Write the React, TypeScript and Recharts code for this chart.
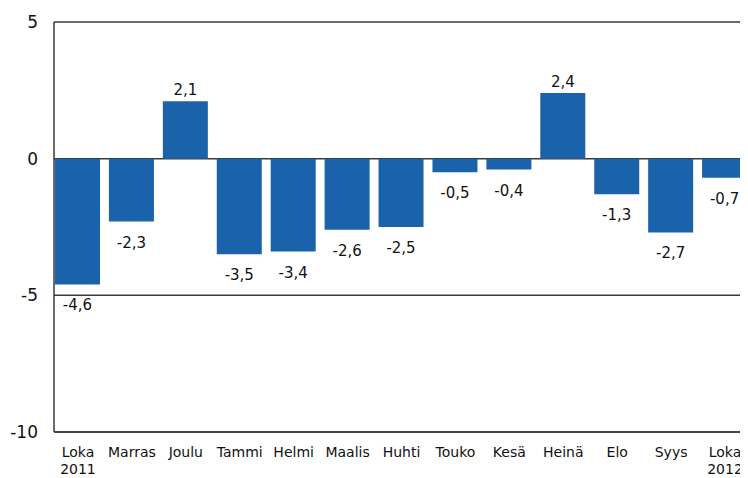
import React from 'react';
import { BarChart, Bar, XAxis, YAxis, CartesianGrid, LabelList } from 'recharts';

const months = ['Loka', 'Marras', 'Joulu', 'Tammi', 'Helmi', 'Maalis', 'Huhti', 'Touko', 'Kesä', 'Heinä', 'Elo', 'Syys', 'Loka'];
const years = ['2011', '', '', '', '', '', '', '', '', '', '', '', '2012'];
const changes = [-4.6, -2.3, 2.1, -3.5, -3.4, -2.6, -2.5, -0.5, -0.4, 2.4, -1.3, -2.7, -0.7];
const yTicks = [-10, -5, 0, 5];

const data = months.map((m, i) => ({ key: `${m}-${i}`, month: m, year: years[i], value: changes[i] }));

const FONT = '"DejaVu Sans", Verdana, sans-serif';
const BAR = '#1a63ab';
const LINE = '#3a3a3a';

const fmt = (v: number) => v.toFixed(1).replace('.', ',');

const MonthTick = (props: any) => {
  const { x, y, index } = props;
  const d = data[index];
  return (
    <text x={x} y={y} textAnchor="middle" fontFamily={FONT} fontSize={14} fill="#111">
      <tspan x={x} dy={25}>{d.month}</tspan>
      {d.year && <tspan x={x} dy={17}>{d.year}</tspan>}
    </text>
  );
};

const ValueLabel = (props: any) => {
  const { x, y, width, height, value } = props;
  const top = Math.min(y, y + height);
  const bottom = Math.max(y, y + height);
  const cx = x + width / 2;
  const ty = value >= 0 ? top - 6 : bottom + 26;
  return (
    <text x={cx} y={ty} textAnchor="middle" fontFamily={FONT} fontSize={15} fill="#111">
      {fmt(value)}
    </text>
  );
};

export default function App() {
  return (
    <div style={{ width: 740, height: 470, overflow: 'hidden' }}>
      <BarChart width={747} height={470} data={data} margin={{ top: 14, right: 0, bottom: 0, left: 0 }}>
        <CartesianGrid vertical={false} stroke={LINE} strokeWidth={1.5} />
        <XAxis
          dataKey="key"
          tick={<MonthTick />}
          interval={0}
          height={46}
          tickSize={0}
          tickMargin={0}
          axisLine={{ stroke: LINE, strokeWidth: 1.5 }}
          padding={{ left: -3, right: 3 }}
        />
        <YAxis
          domain={[-10, 5]}
          ticks={yTicks}
          interval={0}
          width={46}
          tickSize={0}
          tickMargin={16}
          tick={{ fill: '#111', fontSize: 17, fontFamily: FONT }}
          axisLine={{ stroke: LINE, strokeWidth: 1.5 }}
        />
        <Bar dataKey="value" fill={BAR} barSize={45} isAnimationActive={false}>
          <LabelList dataKey="value" content={<ValueLabel />} />
        </Bar>
      </BarChart>
    </div>
  );
}
